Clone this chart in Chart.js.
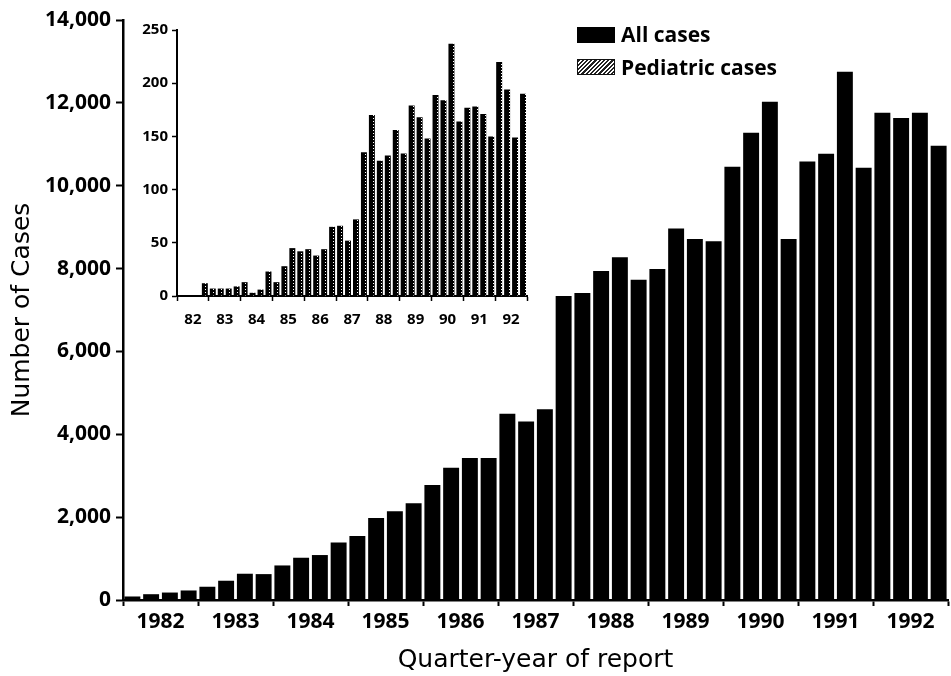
<!DOCTYPE html>
<html>
<head>
<meta charset="utf-8">
<title>Cases by quarter-year of report, 1982-1992</title>
<script src="https://cdn.jsdelivr.net/npm/chart.js@4.4.1/dist/chart.umd.min.js"></script>
<style>
    body { margin: 0; background: #fff; }
    #wrap { position: relative; width: 951px; height: 676px; overflow: hidden; }
    #mainChart { position: absolute; left: 0; top: 0; }
    #insetChart { position: absolute; left: 97px; top: 10px; }
    .swatch { position: absolute; left: 577px; width: 38px; height: 16px; box-sizing: border-box; }
    .legendText { position: absolute; left: 621px; font: bold 21px 'Open Sans', sans-serif; line-height: 24px; color: #000; white-space: nowrap; }
</style>
</head>
<body>
<div id="wrap">
    <canvas id="mainChart" width="951" height="676"></canvas>
    <canvas id="insetChart" width="440" height="330"></canvas>
    <div class="swatch" style="top: 27px; background: #000;"></div>
    <div class="legendText" style="top: 22px;">All cases</div>
    <div class="swatch" style="top: 59px; border: 1.5px solid #111; background: repeating-linear-gradient(135deg, #222 0 1.5px, #fff 1.5px 3px);"></div>
    <div class="legendText" style="top: 55px;">Pediatric cases</div>
</div>
<script>
"use strict";

const Chart = window.Chart;

// one entry per year, 4 quarters each
const years = ['1982', '1983', '1984', '1985', '1986', '1987', '1988', '1989', '1990', '1991', '1992'];
const insetYears = ['82', '83', '84', '85', '86', '87', '88', '89', '90', '91', '92'];

// quarterly counts, 1982 Q1 .. 1992 Q4
const allCases = [
    85, 140, 180, 230,
    320, 465, 634, 625,
    834, 1020, 1085, 1390,
    1545, 1980, 2140, 2335,
    2775, 3195, 3430, 3430,
    4495, 4310, 4605, 7335,
    7408, 7940, 8271, 7731,
    7989, 8965, 8714, 8658,
    10455, 11277, 12027, 8714,
    10585, 10770, 12752, 10431,
    11761, 11632, 11761, 10963
];
const pediatricCases = [
    0, 0, 0, 12,
    7, 7, 7, 9,
    13, 3, 6, 23,
    13, 28, 45, 42,
    44, 38, 44, 65,
    66, 52, 72, 135,
    170, 127, 132, 156,
    134, 179, 168, 148,
    189, 184, 237, 164,
    177, 178, 171, 150,
    220, 194, 149, 190
];

const mainFont = "'Open Sans', sans-serif";
const titleFont = "'DejaVu Sans', sans-serif";


function toPoints(values) {
    return values.map((y, i) => ({x: i + 0.5, y}));
}

// labels sit in the middle of each year, tick marks on the year boundaries
function yearTick(labels) {
    return value => (value % 4 === 2 ? labels[(value - 2) / 4] : '');
}

function yearTickColor(ctx) {
    return ctx.tick && ctx.tick.value % 4 === 0 ? '#000' : 'rgba(0,0,0,0)';
}

function createDotPattern(canvas) {
    const tile = document.createElement('canvas');
    tile.width = 8;
    tile.height = 3;
    const c = tile.getContext('2d');
    c.fillStyle = '#000';
    c.fillRect(0, 0, 8, 3);
    c.fillStyle = '#fff';
    c.fillRect(4, 0, 1, 1);
    return canvas.getContext('2d').createPattern(tile, 'repeat');
}

function createMainConfig() {
    return {
        type: 'bar',
        data: {
            datasets: [{
                label: 'All cases',
                data: toPoints(allCases),
                backgroundColor: '#000',
                borderWidth: 0,
                barPercentage: 0.85,
                categoryPercentage: 1,
            }]
        },
        options: {
            responsive: false,
            animation: false,
            layout: {padding: {top: 20, right: 1, left: 0, bottom: 0}},
            plugins: {legend: {display: false}, tooltip: {enabled: false}},
            scales: {
                x: {
                    type: 'linear',
                    min: 0,
                    max: 44,
                    offset: false,
                    grid: {offset: false, drawOnChartArea: false, tickLength: 6, tickWidth: 2, tickColor: yearTickColor},
                    border: {color: '#000', width: 2.5},
                    ticks: {
                        stepSize: 2,
                        autoSkip: false,
                        maxRotation: 0,
                        padding: 3,
                        color: '#000',
                        font: {family: mainFont, size: 21, weight: 'bold'},
                        callback: yearTick(years),
                    },
                    title: {
                        display: true,
                        text: 'Quarter-year of report',
                        color: '#000',
                        font: {family: titleFont, size: 25},
                        padding: {top: 0, bottom: 1},
                    },
                    afterFit: scale => { scale.height = 76; },
                },
                y: {
                    min: 0,
                    max: 14000,
                    grid: {drawOnChartArea: false, tickLength: 7, tickWidth: 2, tickColor: '#000'},
                    border: {color: '#000', width: 2.5},
                    ticks: {
                        stepSize: 2000,
                        padding: 5,
                        color: '#000',
                        font: {family: mainFont, size: 21, weight: 'bold'},
                        callback: v => v.toLocaleString('en-US'),
                    },
                    title: {
                        display: true,
                        text: 'Number of Cases',
                        color: '#000',
                        font: {family: titleFont, size: 25},
                        padding: {top: 7, bottom: 0},
                    },
                    afterFit: scale => { scale.width = 123; },
                }
            }
        }
    };
}

function createInsetConfig(pattern) {
    return {
        type: 'bar',
        data: {
            datasets: [{
                label: 'Pediatric cases',
                data: toPoints(pediatricCases),
                backgroundColor: pattern,
                borderWidth: 0,
                barPercentage: 0.75,
                categoryPercentage: 1,
            }]
        },
        options: {
            responsive: false,
            animation: false,
            layout: {padding: {top: 20, right: 8, left: 0, bottom: 0}},
            plugins: {legend: {display: false}, tooltip: {enabled: false}},
            scales: {
                x: {
                    type: 'linear',
                    min: 0,
                    max: 44,
                    offset: false,
                    grid: {offset: false, drawOnChartArea: false, tickLength: 5, tickWidth: 1.5, tickColor: yearTickColor},
                    border: {color: '#000', width: 2},
                    ticks: {
                        stepSize: 2,
                        autoSkip: false,
                        maxRotation: 0,
                        padding: 10,
                        color: '#000',
                        font: {family: mainFont, size: 15, weight: 'bold'},
                        callback: yearTick(insetYears),
                    },
                    afterFit: scale => { scale.height = 44; },
                },
                y: {
                    min: 0,
                    max: 250,
                    grid: {drawOnChartArea: false, tickLength: 5, tickWidth: 1.5, tickColor: '#000'},
                    border: {color: '#000', width: 2},
                    ticks: {
                        stepSize: 50,
                        padding: 4,
                        color: '#000',
                        font: {family: mainFont, size: 15, weight: 'bold'},
                    },
                    afterFit: scale => { scale.width = 80; },
                }
            }
        }
    };
}

Chart.defaults.color = '#000';

const insetCanvas = document.getElementById('insetChart');
new Chart(document.getElementById('mainChart'), createMainConfig());
new Chart(insetCanvas, createInsetConfig(createDotPattern(insetCanvas)));
</script>
</body>
</html>
